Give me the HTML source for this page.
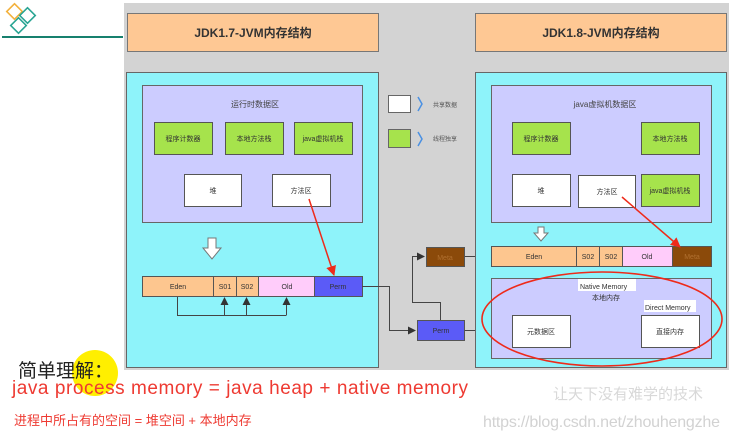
<!DOCTYPE html>
<html><head><meta charset="utf-8"><style>
html,body{margin:0;padding:0;background:#fff;}
svg{display:block;}
text{font-family:"Liberation Sans","Noto Sans CJK SC",sans-serif;}
</style></head><body>
<svg width="732" height="442" viewBox="0 0 732 442" xmlns="http://www.w3.org/2000/svg">
<defs>
<marker id="ah" markerWidth="8" markerHeight="8" refX="7" refY="4" orient="auto" markerUnits="userSpaceOnUse"><path d="M0,0 L8,4 L0,8 z" fill="#333"/></marker>
<marker id="rh" markerWidth="10" markerHeight="10" refX="9" refY="5" orient="auto" markerUnits="userSpaceOnUse"><path d="M0,0 L10,5 L0,10 z" fill="#ee2a1a"/></marker>
</defs>
<rect x="0" y="0" width="732" height="442" fill="#fff"/>
<rect x="124" y="3" width="605" height="367" fill="#d3d3d3"/>
<!-- logo -->
<rect x="9" y="6" width="11" height="11" transform="rotate(45 14.5 11.5)" fill="none" stroke="#f3b13c" stroke-width="1.6"/>
<rect x="22" y="10" width="11" height="11" transform="rotate(45 27.5 15.5)" fill="none" stroke="#2aa594" stroke-width="1.6"/>
<rect x="13" y="20" width="11" height="11" transform="rotate(45 18.5 25.5)" fill="none" stroke="#2aa594" stroke-width="1.6"/>
<line x1="2" y1="37" x2="123" y2="37" stroke="#17806e" stroke-width="2"/>
<!-- titles -->
<rect x="127.5" y="13.5" width="251" height="38" fill="#fec894" stroke="#777"/>
<text x="253" y="37" font-size="12" font-weight="bold" text-anchor="middle" fill="#333">JDK1.7-JVM内存结构</text>
<rect x="475.5" y="13.5" width="251" height="38" fill="#fec894" stroke="#777"/>
<text x="601" y="37" font-size="12" font-weight="bold" text-anchor="middle" fill="#333">JDK1.8-JVM内存结构</text>
<!-- left -->
<rect x="126.5" y="72.5" width="252" height="295" fill="#8ef3fa" stroke="#666"/>
<rect x="142.5" y="85.5" width="220" height="137" fill="#ccccff" stroke="#666"/>
<text x="255" y="107" font-size="8" text-anchor="middle" fill="#444">运行时数据区</text>
<g font-size="7" text-anchor="middle" fill="#333">
<rect x="154.5" y="122.5" width="58" height="32" fill="#a6e34c" stroke="#555"/><text x="183" y="141">程序计数器</text>
<rect x="225.5" y="122.5" width="58" height="32" fill="#a6e34c" stroke="#555"/><text x="254" y="141">本地方法栈</text>
<rect x="294.5" y="122.5" width="58" height="32" fill="#a6e34c" stroke="#555"/><text x="323" y="141">java虚拟机栈</text>
<rect x="184.5" y="174.5" width="57" height="32" fill="#fff" stroke="#555"/><text x="213" y="193">堆</text>
<rect x="272.5" y="174.5" width="58" height="32" fill="#fff" stroke="#555"/><text x="301" y="193">方法区</text>
</g>
<path d="M208,238 h8 v10 h5 l-9,11 l-9,-11 h5 z" fill="#fff" stroke="#777"/>
<g font-size="7" text-anchor="middle" fill="#333">
<rect x="142.5" y="276.5" width="71" height="20" fill="#fdc68f" stroke="#555"/><text x="178" y="289">Eden</text>
<rect x="213.5" y="276.5" width="23" height="20" fill="#fdc68f" stroke="#555"/><text x="225" y="289">S01</text>
<rect x="236.5" y="276.5" width="22" height="20" fill="#fdc68f" stroke="#555"/><text x="247" y="289">S02</text>
<rect x="258.5" y="276.5" width="56" height="20" fill="#ffccfa" stroke="#555"/><text x="287" y="289">Old</text>
<rect x="314.5" y="276.5" width="48" height="20" fill="#5b5bf7" stroke="#555"/><text x="338" y="289">Perm</text>
</g>
<path d="M177.5,297 V315.5 H286.5" fill="none" stroke="#444"/>
<line x1="224.5" y1="315" x2="224.5" y2="298" stroke="#444" marker-end="url(#ah)"/>
<line x1="246.5" y1="315" x2="246.5" y2="298" stroke="#444" marker-end="url(#ah)"/>
<line x1="286.5" y1="315" x2="286.5" y2="298" stroke="#444" marker-end="url(#ah)"/>
<line x1="309" y1="199" x2="334" y2="275" stroke="#ee2a1a" stroke-width="1.5" marker-end="url(#rh)"/>
<!-- middle connectors -->
<path d="M362,286.5 H389.5 V330.5 H415" fill="none" stroke="#444" marker-end="url(#ah)"/>
<rect x="417.5" y="320.5" width="47" height="20" fill="#5b5bf7" stroke="#555"/>
<text x="441" y="333" font-size="7" text-anchor="middle" fill="#333">Perm</text>
<path d="M440.5,320 V302.5 H412.5 V256.5 H424" fill="none" stroke="#444" marker-end="url(#ah)"/>
<rect x="426.5" y="247.5" width="38" height="19" fill="#8b4a0a" stroke="#555"/>
<text x="445" y="260" font-size="7" text-anchor="middle" fill="#b07030">Meta</text>
<line x1="465" y1="256.5" x2="489" y2="256.5" stroke="#444" marker-end="url(#ah)"/>
<line x1="465" y1="330.5" x2="510" y2="330.5" stroke="#444" marker-end="url(#ah)"/>
<!-- legend -->
<rect x="388.5" y="95.5" width="22" height="17" fill="#fff" stroke="#666"/>
<path d="M418,97 l4,7 l-4,7" fill="none" stroke="#4a90e2" stroke-width="1.5"/>
<text x="433" y="107" font-size="6" fill="#555">共享数据</text>
<rect x="388.5" y="129.5" width="22" height="18" fill="#a6e34c" stroke="#666"/>
<path d="M418,132 l4,7 l-4,7" fill="none" stroke="#4a90e2" stroke-width="1.5"/>
<text x="433" y="141" font-size="6" fill="#555">线程独享</text>
<!-- right -->
<rect x="475.5" y="72.5" width="251" height="295" fill="#8ef3fa" stroke="#666"/>
<rect x="491.5" y="85.5" width="220" height="137" fill="#ccccff" stroke="#666"/>
<text x="605" y="107" font-size="8" text-anchor="middle" fill="#444">java虚拟机数据区</text>
<g font-size="7" text-anchor="middle" fill="#333">
<rect x="512.5" y="122.5" width="58" height="32" fill="#a6e34c" stroke="#555"/><text x="541" y="141">程序计数器</text>
<rect x="641.5" y="122.5" width="58" height="32" fill="#a6e34c" stroke="#555"/><text x="670" y="141">本地方法栈</text>
<rect x="512.5" y="174.5" width="58" height="32" fill="#fff" stroke="#555"/><text x="541" y="193">堆</text>
<rect x="578.5" y="175.5" width="57" height="32" fill="#fff" stroke="#555"/><text x="607" y="194">方法区</text>
<rect x="641.5" y="174.5" width="58" height="32" fill="#a6e34c" stroke="#555"/><text x="670" y="193">java虚拟机栈</text>
</g>
<path d="M538,227 h6 v6 h4 l-7,8 l-7,-8 h4 z" fill="#fff" stroke="#777"/>
<g font-size="7" text-anchor="middle" fill="#333">
<rect x="491.5" y="246.5" width="85" height="20" fill="#fdc68f" stroke="#555"/><text x="534" y="259">Eden</text>
<rect x="576.5" y="246.5" width="23" height="20" fill="#fdc68f" stroke="#555"/><text x="588" y="259">S02</text>
<rect x="599.5" y="246.5" width="23" height="20" fill="#fdc68f" stroke="#555"/><text x="611" y="259">S02</text>
<rect x="622.5" y="246.5" width="50" height="20" fill="#ffccfa" stroke="#555"/><text x="647" y="259">Old</text>
<rect x="672.5" y="246.5" width="39" height="20" fill="#8b4a0a" stroke="#555"/><text x="692" y="259" fill="#b07030">Meta</text>
</g>
<line x1="622" y1="197" x2="680" y2="247" stroke="#ee2a1a" stroke-width="1.5" marker-end="url(#rh)"/>
<rect x="491.5" y="278.5" width="220" height="80" fill="#ccccff" stroke="#666"/>
<rect x="578" y="279" width="58" height="12" fill="#fff"/>
<text x="580" y="289" font-size="7" fill="#333">Native Memory</text>
<text x="606" y="300" font-size="7" text-anchor="middle" fill="#333">本地内存</text>
<rect x="644" y="300" width="52" height="12" fill="#fff"/>
<text x="645" y="310" font-size="7" fill="#333">Direct Memory</text>
<g font-size="7" text-anchor="middle" fill="#333">
<rect x="512.5" y="315.5" width="58" height="32" fill="#fff" stroke="#555"/><text x="541" y="334">元数据区</text>
<rect x="641.5" y="315.5" width="58" height="32" fill="#fff" stroke="#555"/><text x="670" y="334">直接内存</text>
</g>
<ellipse cx="602" cy="319" rx="120" ry="47" fill="none" stroke="#ee2a1a" stroke-width="1.6"/>
<!-- bottom text -->
<circle cx="95" cy="373" r="23" fill="#ffef00"/>
<text x="18" y="377" font-size="19" fill="#222">简单理解：</text>
<text x="12" y="394" font-size="19" fill="#ee3a32" textLength="456">java process memory = java heap + native memory</text>
<text x="553" y="399" font-size="15" fill="#d8d8d8" font-family="'Noto Serif CJK SC',serif">让天下没有难学的技术</text>
<text x="14" y="425" font-size="13" fill="#ee3a32">进程中所占有的空间 = 堆空间 + 本地内存</text>
<text x="483" y="427" font-size="16" fill="#d2d2d2" textLength="237">https://blog.csdn.net/zhouhengzhe</text>
</svg>
</body></html>
